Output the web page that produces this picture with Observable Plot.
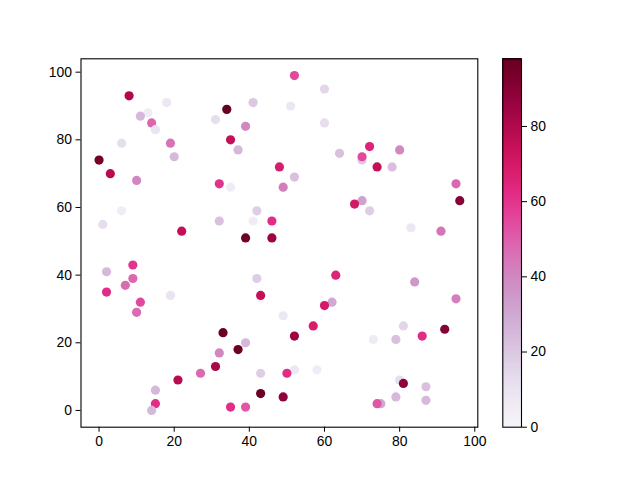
<!DOCTYPE html>
<html>
<head>
<meta charset="utf-8">
<script src="https://cdn.jsdelivr.net/npm/d3@7"></script>
<script src="https://cdn.jsdelivr.net/npm/@observablehq/plot@0.6"></script>
<style>
  body { margin: 0; background: #fff; }
  #chart { position: relative; width: 640px; height: 480px; }
  #chart svg { position: absolute; left: 0; top: 0; }
</style>
</head>
<body>
<div id="chart"></div>
<script>
// scatter points (x, y, colour value)
const xs = [8, 18, 13, 11, 14, 15, 6, 19, 20, 0, 3, 10, 6, 1, 22, 31, 34, 41, 39, 35,
  37, 32, 35, 42, 32, 41, 46, 39, 46, 48, 52, 60, 51, 60, 64, 72, 80, 70, 70, 74,
  78, 52, 49, 95, 96, 70, 68, 72, 83, 91, 2, 9, 9, 7, 2, 11, 10, 19, 42, 43,
  43, 49, 33, 39, 37, 32, 31, 27, 21, 43, 43, 49, 15, 15, 14, 35, 39, 63, 62, 60,
  57, 52, 84, 95, 81, 79, 73, 86, 92, 52, 58, 50, 80, 81, 87, 79, 87, 75, 74]
const ys = [93, 91, 88, 87, 85, 83, 79, 79, 75, 74, 70, 68, 59, 55, 53, 86, 89, 91, 84, 80,
  77, 67, 66, 59, 56, 56, 56, 51, 51, 72, 99, 95, 90, 85, 76, 78, 77, 74, 75, 72,
  72, 69, 66, 67, 62, 62, 61, 59, 54, 53, 41, 43, 39, 37, 35, 32, 29, 34, 39, 33,
  34, 28, 23, 20, 18, 17, 13, 11, 9, 11, 5, 4, 6, 2, 0, 1, 1, 40, 32, 31,
  25, 22, 38, 33, 25, 21, 21, 22, 24, 12, 12, 11, 9, 8, 7, 4, 3, 2, 2]
const vals = [80, 8, 5, 25, 48, 10, 12, 45, 25, 95, 78, 40, 5, 12, 75, 12, 98, 20, 40, 75,
  25, 60, 5, 18, 22, 5, 62, 95, 85, 68, 55, 15, 8, 12, 22, 65, 40, 20, 55, 75,
  22, 22, 42, 48, 90, 32, 70, 18, 8, 45, 25, 60, 48, 47, 62, 55, 47, 10, 18, 0,
  75, 8, 97, 25, 97, 40, 82, 47, 78, 18, 97, 88, 25, 62, 25, 62, 52, 65, 30, 70,
  68, 85, 35, 42, 15, 22, 5, 62, 90, 8, 5, 62, 12, 88, 22, 25, 25, 30, 52]

const xTicks = [0, 20, 40, 60, 80, 100]
const yTicks = [0, 20, 40, 60, 80, 100]
const cTicks = [0, 20, 40, 60, 80]

const points = xs.map((x, i) => ({x, y: ys[i], v: vals[i]}))
const vMin = d3.min(vals), vMax = d3.max(vals)

const font = {fontFamily: "'Liberation Sans', Arial, sans-serif", fontSize: "13.9px"}

const scatter = Plot.plot({
  width: 640,
  height: 480,
  marginLeft: 80.5,
  marginRight: 162.7,
  marginTop: 58.3,
  marginBottom: 53.3,
  style: {...font, background: "transparent", color: "#000"},
  x: {domain: [-4.8, 100.8], ticks: xTicks, tickSize: 5, tickPadding: 4, label: null},
  y: {domain: [-4.95, 103.95], ticks: yTicks, tickSize: 5, tickPadding: 4, label: null},
  color: {type: "linear", scheme: "PuRd", domain: [vMin, vMax]},
  marks: [
    Plot.dot(points, {x: "x", y: "y", fill: "v", r: 4.6, stroke: null}),
    Plot.frame({stroke: "#000", strokeWidth: 1.1})
  ]
})

// colour bar: thin bands through the same colour scheme
const bands = d3.range(256).map(i => ({
  lo: vMin + (vMax - vMin) * i / 256,
  hi: vMin + (vMax - vMin) * (i + 1) / 256
}))

const colorbar = Plot.plot({
  width: 640,
  height: 480,
  marginLeft: 502.3,
  marginRight: 119,
  marginTop: 58.3,
  marginBottom: 53.3,
  style: {...font, background: "transparent", color: "#000"},
  x: {domain: [0, 1], axis: null},
  y: {domain: [vMin, vMax], ticks: cTicks, tickSize: 5, tickPadding: 4, label: null, axis: "right"},
  color: {type: "linear", scheme: "PuRd", domain: [vMin, vMax]},
  marks: [
    Plot.rect(bands, {x1: 0, x2: 1, y1: "lo", y2: "hi", fill: d => (d.lo + d.hi) / 2, inset: 0, shapeRendering: "crispEdges"}),
    Plot.frame({stroke: "#000", strokeWidth: 1.1})
  ]
})

const holder = d3.select("#chart")
holder.append(() => scatter)
holder.append(() => colorbar)
</script>
</body>
</html>
